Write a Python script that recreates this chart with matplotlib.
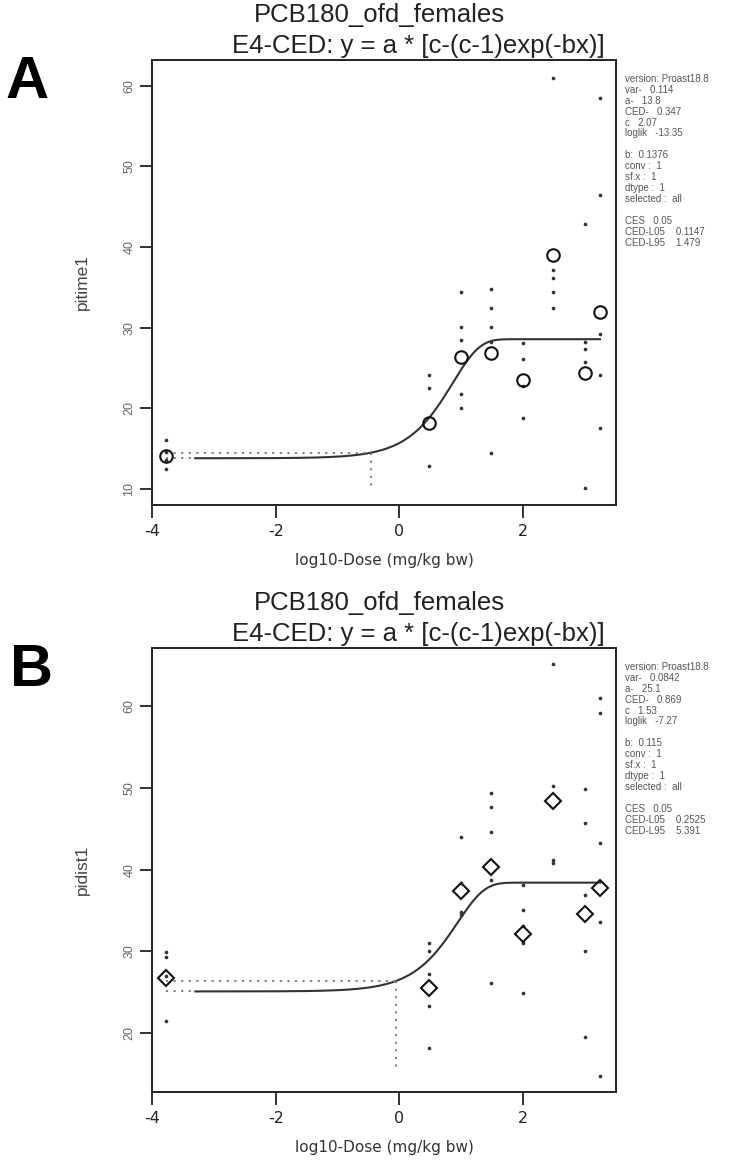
import numpy as np
import matplotlib.pyplot as plt

plt.rcParams['axes.unicode_minus'] = False

W, H = 735, 1170  # figure size in px

# dose groups (log10 mg/kg bw), control plotted at -3.77
log_dose = [-3.77, 0.48, 1.0, 1.48, 2.0, 2.48, 3.0, 3.24]

# panel A: pitime1
pitime_means = [14.1, 18.2, 26.4, 26.8, 23.5, 39.0, 24.4, 31.9]
pitime_points = [
    [16.1, 14.6, 13.6, 12.5],
    [24.1, 22.5, 12.8],
    [34.4, 30.1, 28.5, 21.8, 20.0],
    [34.8, 32.4, 30.1, 28.2, 14.5],
    [28.1, 26.1, 22.8, 18.8],
    [61.0, 37.1, 36.1, 34.4, 32.4],
    [42.8, 28.2, 27.3, 25.7, 10.1],
    [58.5, 46.4, 29.2, 24.1, 17.6],
]

# panel B: pidist1
pidist_means = [26.7, 25.5, 37.4, 40.3, 32.1, 48.4, 34.6, 37.7]
pidist_points = [
    [29.9, 29.3, 27.0, 21.5],
    [31.0, 30.0, 27.2, 23.3, 18.2],
    [44.0, 38.3, 34.8, 34.4],
    [49.4, 47.6, 44.6, 38.7, 26.1],
    [38.1, 35.0, 33.1, 31.0, 24.9],
    [65.1, 50.2, 41.2, 40.8],
    [49.8, 45.7, 36.9, 30.0, 19.5],
    [61.0, 59.1, 43.2, 33.6, 14.7],
]

# fitted E4-CED parameters (A, B)
par_a = [13.8, 25.1]
par_b = [0.1376, 0.115]
par_c = [2.07, 1.53]
par_ced = [0.347, 0.869]
ces = 0.05
ced_line_bottom = [10.0, 15.6]

info_A = ["version: Proast18.8", "var-   0.114", "a-   13.8", "CED-   0.347", "c   2.07",
          "loglik   -13.35", "", "b:  0.1376", "conv :  1", "sf.x :  1", "dtype :  1",
          "selected :  all", "", "CES   0.05", "CED-L05    0.1147", "CED-L95    1.479"]
info_B = ["version: Proast18.8", "var-   0.0842", "a-   25.1", "CED-   0.869", "c   1.53",
          "loglik   -7.27", "", "b:  0.115", "conv :  1", "sf.x :  1", "dtype :  1",
          "selected :  all", "", "CES   0.05", "CED-L05    0.2525", "CED-L95    5.391"]

fig = plt.figure(figsize=(W / 100, H / 100), dpi=100)


def fx(px):
    return px / W


def fy(py):
    return 1 - py / H


def panel(k, top, bottom, ylim, means, points, mark, ylab, letter, letter_xy, info):
    ax = fig.add_axes([fx(152), fy(bottom), fx(616) - fx(152), fy(top) - fy(bottom)])
    ax.set_xlim(-4.0, 3.5)
    ax.set_ylim(*ylim)

    for x, pts in zip(log_dose, points):
        ax.scatter([x] * len(pts), pts, s=7, color='#333333', zorder=3, linewidths=0)
    ax.plot(log_dose, means, linestyle='none', marker=mark, ms=9 if mark == 'o' else 8,
            mfc='none', mec='#111111', mew=1.5, zorder=4)

    a, b, c = par_a[k], par_b[k], par_c[k]
    xs = np.linspace(-3.3, log_dose[-1], 300)
    ax.plot(xs, a * (c - (c - 1) * np.exp(-b * 10 ** xs)), color='#333333', lw=1.5, zorder=2)
    dot = (0, (1.2, 3.0))
    ax.plot([log_dose[0], -3.3], [a, a], color='#777777', lw=1.3, ls=dot)
    xced = np.log10(par_ced[k])
    yces = a * (1 + ces)
    ax.plot([log_dose[0], xced], [yces, yces], color='#777777', lw=1.3, ls=dot)
    ax.plot([xced, xced], [yces, ced_line_bottom[k]], color='#777777', lw=1.3, ls=dot)

    for s in ax.spines.values():
        s.set_linewidth(1.4)
        s.set_color('#222222')
    ax.set_xticks([-4, -2, 0, 2])
    ax.set_xticklabels(['-4', '-2', '0', '2'], fontsize=11.5, color='#222222',
                       family='DejaVu Sans')
    yt = list(range(10, 70, 10))
    yt = [t for t in yt if ylim[0] <= t <= ylim[1]]
    ax.set_yticks(yt)
    ax.set_yticklabels([str(t) for t in yt], rotation=90, va='center', fontsize=9,
                       color='#666666', family='Liberation Sans')
    ax.tick_params(axis='both', direction='out', length=9, width=1.3, color='#222222')
    ax.tick_params(axis='x', pad=5)
    ax.tick_params(axis='y', pad=3)
    ax.set_xlabel('log10-Dose (mg/kg bw)', fontsize=11, color='#333333',
                  family='DejaVu Sans', labelpad=10)
    ax.set_ylabel(ylab, fontsize=12.5, color='#444444', family='Liberation Sans')
    ax.yaxis.set_label_coords((90 - 152) / 464, 0.5)

    fig.text(fx(379), fy(top - 45), 'PCB180_ofd_females', fontsize=18.5,
             family='Liberation Sans', ha='center', va='center', color='#222222')
    fig.text(fx(605), fy(top - 14), 'E4-CED: y = a * [c-(c-1)exp(-bx)]', fontsize=18.5,
             family='Liberation Sans', ha='right', va='center', color='#222222')
    fig.text(fx(letter_xy[0]), fy(letter_xy[1]), letter, fontsize=43, fontweight='bold',
             family='Liberation Sans', ha='center', va='center')
    for i, line in enumerate(info):
        if line:
            fig.text(fx(625), fy(top + 19 + i * 10.9), line, fontsize=7,
                     family='Liberation Sans', color='#555555', va='center', ha='left')
    return ax


panel(0, 60, 505, (8.0, 63.2), pitime_means, pitime_points, 'o', 'pitime1', 'A', (27, 83), info_A)
panel(1, 648, 1092, (12.8, 67.1), pidist_means, pidist_points, 'D', 'pidist1', 'B', (32, 670), info_B)

fig.savefig('out.png', dpi=100)
